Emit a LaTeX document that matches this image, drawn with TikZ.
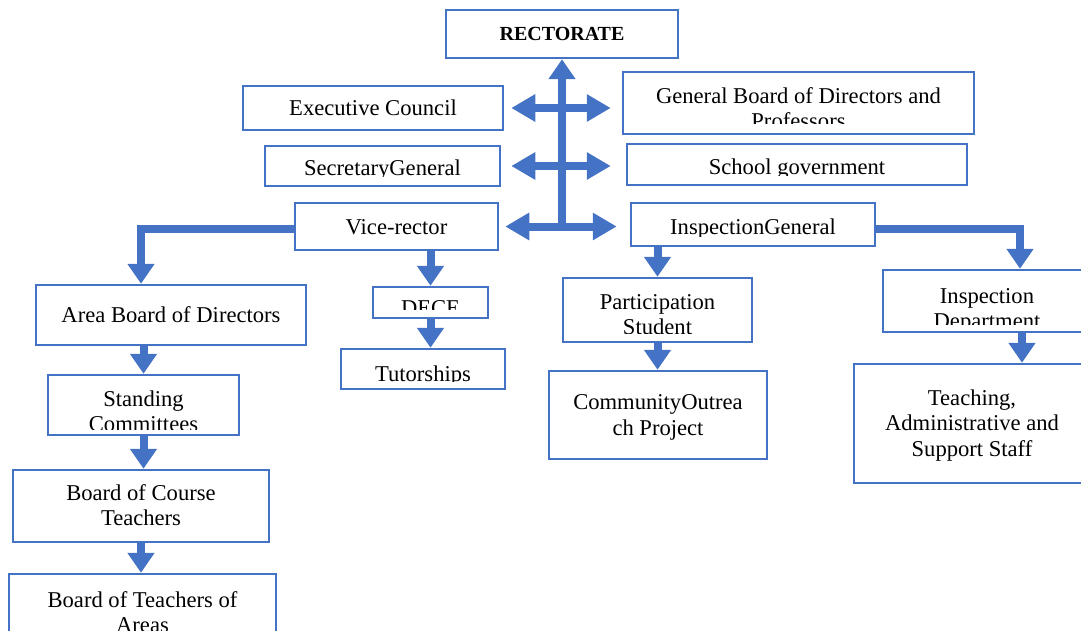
\documentclass[tikz,border=0pt]{standalone}
\usepackage{fontspec}
\setmainfont{Liberation Serif}
\usetikzlibrary{arrows.meta}
\definecolor{bl}{RGB}{68,114,196}
\tikzset{
  box/.style={draw=bl, line width=1.25pt, fill=white, inner sep=0pt},
  txt/.style={font=\fontsize{11.3}{12.75}\selectfont, inner sep=0pt, anchor=base, align=center, text=black},
  arr/.style={draw=bl, line width=4pt, -{Triangle[length=10pt,width=13pt]}},
  dbl/.style={draw=bl, line width=4pt, {Triangle[length=12pt,width=13pt]}-{Triangle[length=12pt,width=13pt]}}
}
% name, x1, y1, x2, y2 (pixels)
\newcommand\mkbox[5]{\node[box, minimum width={(#4-#2)*0.5pt}, minimum height={(#5-#3)*0.5pt}] (#1) at ({(#2+#4)/2},{(#3+#5)/2}) {};}
\begin{document}
\begin{tikzpicture}[x=0.5pt,y=-0.5pt]
\useasboundingbox (0,0) rectangle (1081,631);
% boxes
\mkbox{rect}{446}{10}{678}{58}
\mkbox{ec}{243}{86}{503}{130}
\mkbox{gb}{623}{72}{974}{134}
\mkbox{sg}{265}{146}{500}{186}
\mkbox{schg}{627}{144}{967}{185}
\mkbox{vr}{295}{203}{498}{250}
\mkbox{ig}{631}{203}{875}{246}
\mkbox{abd}{36}{285}{306}{345}
\mkbox{dece}{373}{287}{488}{318}
\mkbox{tut}{341}{349}{505}{389}
\mkbox{ps}{563}{278}{752}{342}
\mkbox{co}{549}{371}{767}{459}
\mkbox{id}{883}{270}{1091}{332}
\mkbox{tas}{854}{364}{1090}{483}
\mkbox{sc}{48}{375}{239}{435}
\mkbox{bct}{13}{470}{269}{542}
\mkbox{bta}{9}{574}{276}{650}
% texts (base anchor = baseline of the last line)
\node[txt, font=\bfseries\fontsize{10}{12}\selectfont] (rect-t) at (562,41) {RECTORATE};
\node[txt] (ec-t) at (373,115.5) {Executive Council};
\begin{scope}\clip (623,72) rectangle (974,124);
\node[txt] (gb-t) at (798.5,128.5) {General Board of Directors and\\Professors};
\end{scope}
\begin{scope}\clip (265,146) rectangle (500,176);
\node[txt] (sg-t) at (382.5,175) {SecretaryGeneral};
\end{scope}
\begin{scope}\clip (627,144) rectangle (967,175.5);
\node[txt] (schg-t) at (797,174) {School government};
\end{scope}
\node[txt] (vr-t) at (396.5,234) {Vice-rector};
\begin{scope}\clip (631,203) rectangle (875,236);
\node[txt] (ig-t) at (753,234) {InspectionGeneral};
\end{scope}
\node[txt] (abd-t) at (171,322.5) {Area Board of Directors};
\begin{scope}\clip (373,287) rectangle (488,309);
\node[txt] (dece-t) at (430.5,315) {DECE};
\end{scope}
\begin{scope}\clip (341,349) rectangle (505,381);
\node[txt] (tut-t) at (423,381) {Tutorships};
\end{scope}
\begin{scope}\clip (563,278) rectangle (752,333);
\node[txt] (ps-t) at (657.5,334.5) {Participation\\Student};
\end{scope}
\node[txt] (co-t) at (658,435) {CommunityOutrea\\ch Project};
\begin{scope}\clip (883,270) rectangle (1091,324);
\node[txt] (id-t) at (987,328.5) {Inspection\\Department};
\end{scope}
\node[txt] (tas-t) at (972,456) {Teaching,\\Administrative and\\Support Staff};
\begin{scope}\clip (48,375) rectangle (239,429);
\node[txt] (sc-t) at (143.5,431.5) {Standing\\Committees};
\end{scope}
\node[txt] (bct-t) at (141,525.5) {Board of Course\\Teachers};
\node[txt] (bta-t) at (142.5,632.5) {Board of Teachers of\\Areas};
% connectors
\draw[arr] (rect.south |- vr.east) -- (rect.south);
\draw[dbl, shorten <=3.5pt, shorten >=5.5pt] (ec.east) -- (ec.east -| gb.west);
\draw[dbl, shorten <=5pt, shorten >=7.5pt] (sg.east) -- (sg.east -| schg.west);
\draw[dbl, shorten <=3pt, shorten >=6.5pt] (vr.east) -- (vr.east -| ig.west);
\draw[arr] ([yshift=-1pt]vr.west) -| ([xshift=-15pt]abd.north);
\draw[arr] ([yshift=-2pt]ig.east) -| ([xshift=16.5pt]id.north);
\draw[arr] (vr.south -| dece.north) -- (dece.north);
\draw[arr] (dece.south) -- (dece.south |- tut.north);
\draw[arr] (ig.south -| ps.north) -- (ps.north);
\draw[arr] (ps.south) -- (ps.south |- co.north);
\draw[arr] ([xshift=17.5pt]id.south) -- ([xshift=17.5pt]id.south |- tas.north);
\draw[arr] (abd.south -| sc.north) -- (sc.north);
\draw[arr] (sc.south) -- (sc.south |- bct.north);
\draw[arr] (bct.south) -- (bct.south |- bta.north);
\end{tikzpicture}
\end{document}
